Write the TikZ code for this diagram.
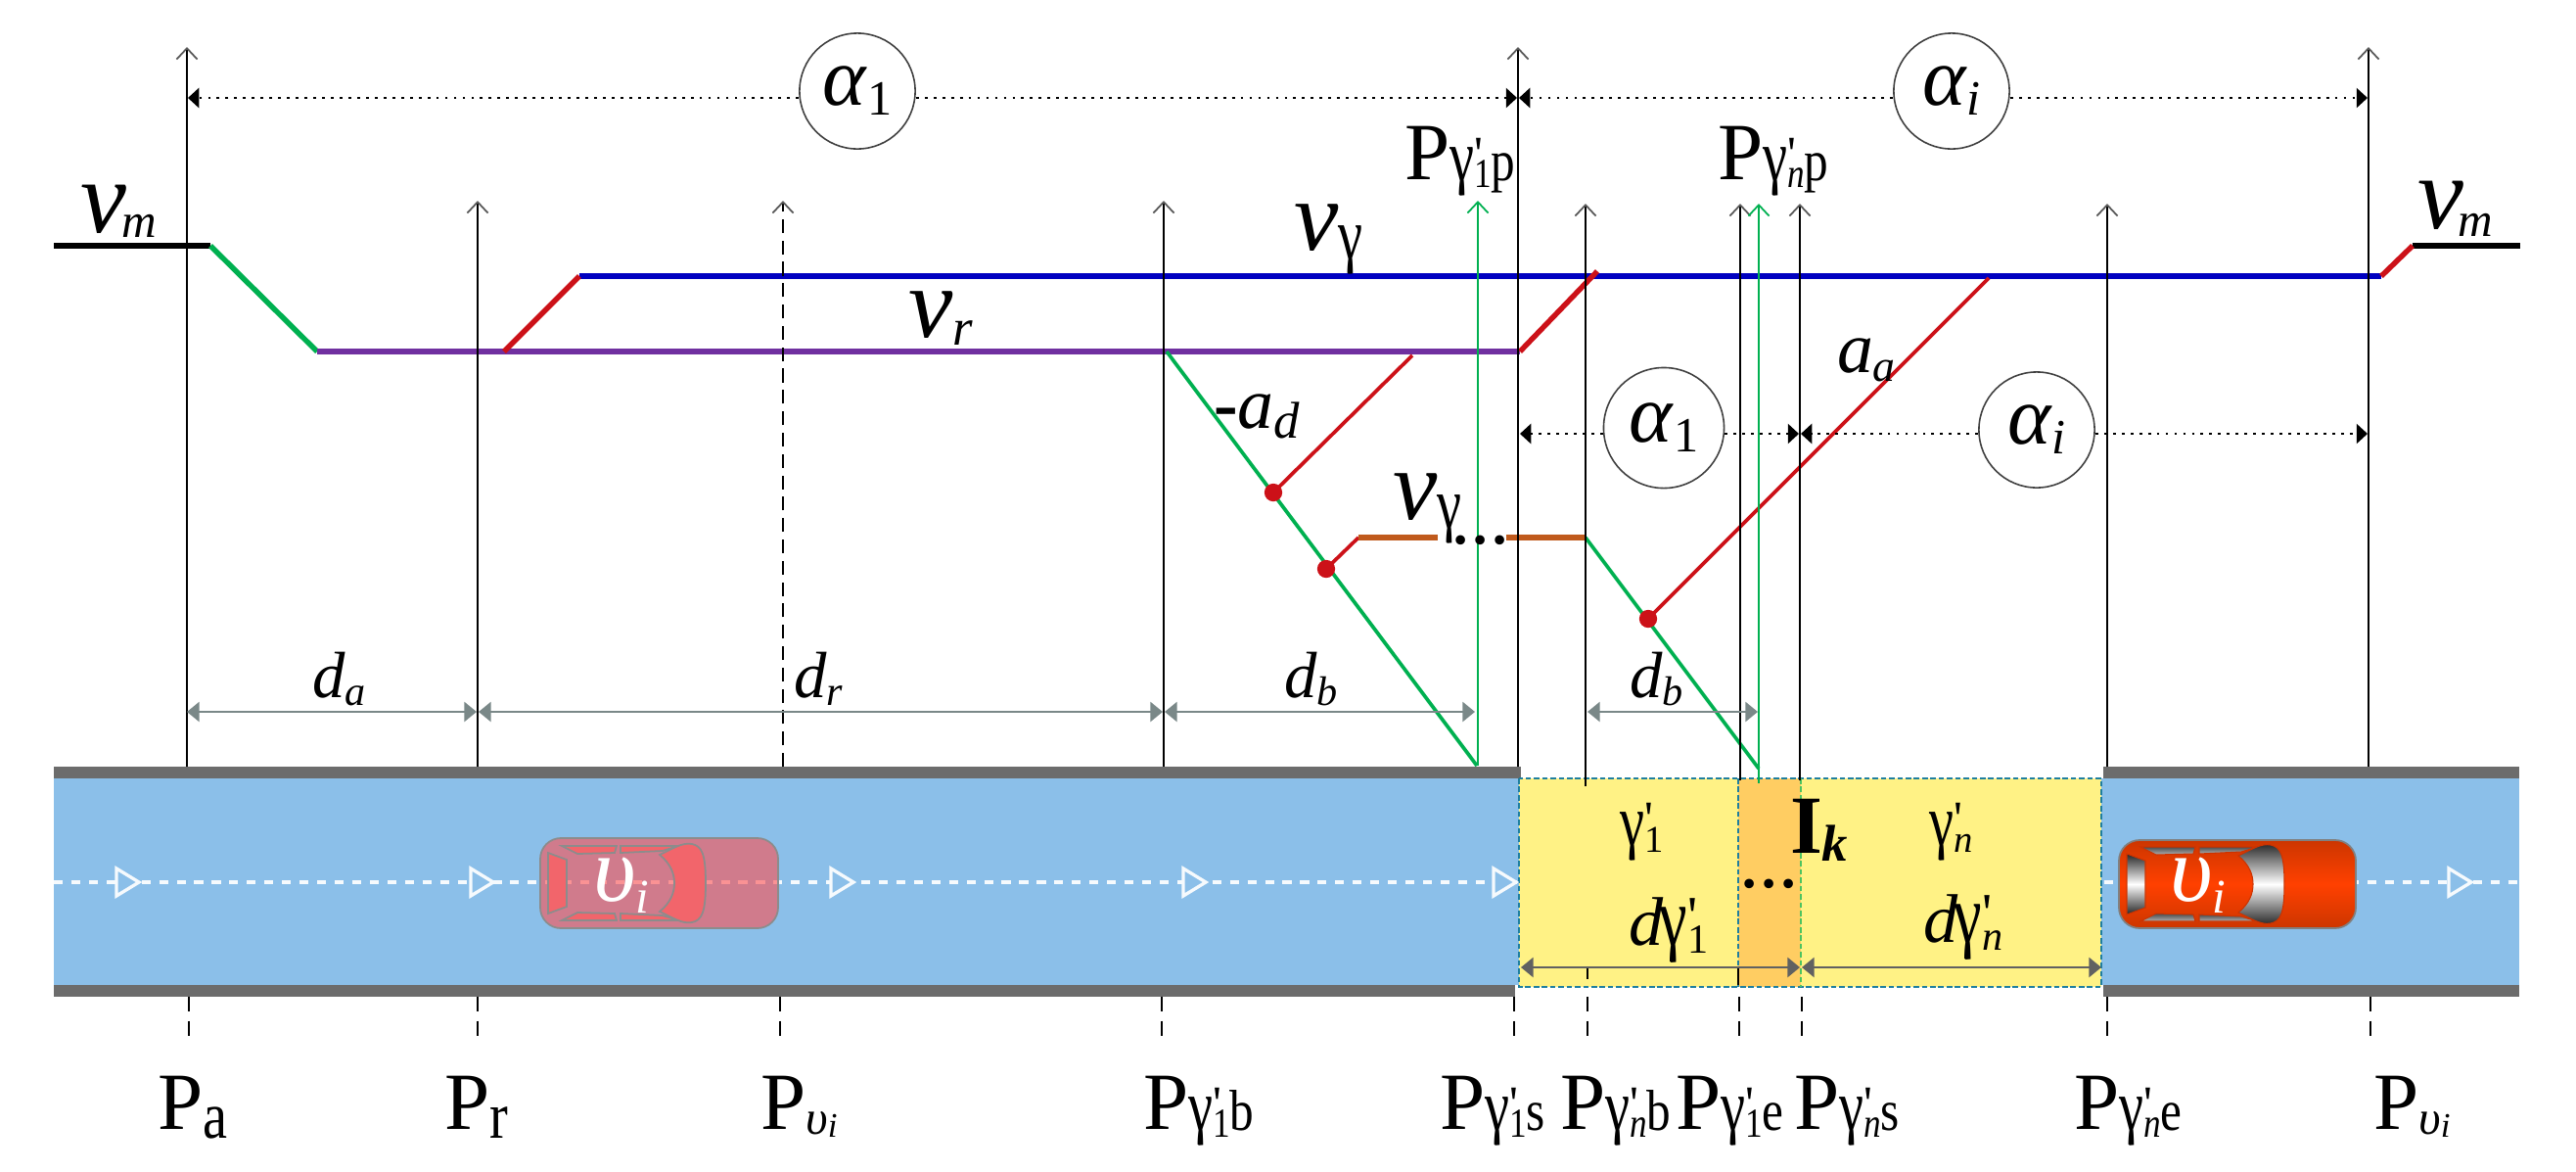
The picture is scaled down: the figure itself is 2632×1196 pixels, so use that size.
\documentclass[tikz,border=0pt]{standalone}
\usepackage{fontspec}
\setmainfont{Liberation Serif}
\usetikzlibrary{arrows.meta}
\definecolor{roadblue}{HTML}{8BBFE9}
\definecolor{roadgray}{HTML}{6C6C6C}
\definecolor{zoneyellow}{HTML}{FFF285}
\definecolor{zoneorange}{HTML}{FFCD62}
\definecolor{zoneteal}{HTML}{1F7F9F}
\definecolor{dimgray}{HTML}{7A8888}
\definecolor{profgreen}{HTML}{00B050}
\definecolor{profred}{HTML}{CC1118}
\definecolor{profblue}{HTML}{0000C0}
\definecolor{profpurple}{HTML}{7030A0}
\definecolor{profbrown}{HTML}{C05A1C}
\definecolor{carred}{HTML}{FF4000}
\definecolor{cardark}{HTML}{CC3600}
\definecolor{ghostred}{HTML}{FE4E4E}
\definecolor{ghostglass}{HTML}{F2656B}
\newcommand\fz[1]{\fontsize{#1}{#1}\selectfont}
\newcommand\lowtxt[3]{\raisebox{-#1pt}{\fz{#2}#3}}
\newcommand\tall[1]{\scalebox{1}[1.2]{#1}}
\newcommand\gam{\scalebox{1.15}[1.5]{γ}}
\newcommand\prm{\rlap{\raisebox{3pt}{\textquotesingle}}}
\newcommand\pgam[2]{P\lowtxt{0.4}{14}{\gam\prm\lowtxt{2}{10}{\tall{#1}}\tall{#2}}}
\newcommand\carglass[2]{%
  \path[#1] (8,-31) -- (27,-24) -- (27,24) -- (8,31) -- cycle;
  \path[#2] (22,-38) -- (78,-38) -- (76,-31) -- (38,-30) -- cycle;
  \path[#2] (82,-38) -- (141,-38) -- (125,-33) -- (82,-31) -- cycle;
  \path[#2] (22,38) -- (78,38) -- (76,31) -- (38,30) -- cycle;
  \path[#2] (82,38) -- (141,38) -- (125,33) -- (82,31) -- cycle;
  \path[#1] (122,-29) .. controls (135,-35) and (145,-42) .. (155,-40)
    .. controls (165,-38) and (169,-30) .. (169,0)
    .. controls (169,30) and (165,38) .. (155,40)
    .. controls (145,42) and (135,35) .. (122,29)
    .. controls (133,20) and (137,10) .. (137,0)
    .. controls (137,-10) and (133,-20) .. (122,-29) -- cycle;
}
\tikzset{
  txt/.style={anchor=base west,inner sep=0pt,outer sep=0pt},
  posline/.style={draw=black,line width=0.55pt,-{Straight Barb[length=3.2pt,width=6pt,line width=0.5pt,black!65]}},
  dashline/.style={posline,dash pattern=on 4pt off 2.2pt},
  footline/.style={draw=black,line width=0.55pt,dash pattern=on 4.4pt off 2.6pt},
  gapline/.style={posline,draw=profgreen,-{Straight Barb[length=3.2pt,width=6pt,line width=0.5pt,profgreen]}},
  dotline/.style={draw=black,line width=0.7pt,dash pattern=on 0.8pt off 1.75pt,-{Triangle[length=3.2pt,width=5.7pt,sep=0pt]}},
  dimline/.style={draw=dimgray,line width=0.7pt,{Triangle[length=3.6pt,width=5.7pt,fill=dimgray]}-{Triangle[length=3.6pt,width=5.7pt,fill=dimgray]}},
  zonedim/.style={dimline,draw=black!62,{Triangle[length=3.6pt,width=5.7pt]}-{Triangle[length=3.6pt,width=5.7pt]}},
  alphacirc/.style={circle,draw=black!75,fill=white,line width=0.45pt,minimum size=33.6pt,inner sep=0pt,font=\fz{24}},
  reddot/.style={circle,fill=profred,minimum size=5.2pt,inner sep=0pt},
  lanetip/.style={draw=white!92!roadblue,line width=0.95pt,fill=roadblue,line join=miter},
  laneline/.style={draw=white!92!roadblue,line width=1pt,dash pattern=on 2.6pt off 2.5pt},
  zoneedge/.style={draw=zoneteal,line width=0.5pt,dash pattern=on 1.6pt off 0.8pt},
  thickspeed/.style={line width=1.55pt},
  thinspeed/.style={line width=1.05pt}
}

\begin{document}
\begin{tikzpicture}[x=0.01cm,y=-0.01cm]
  \useasboundingbox (0,0) rectangle (2632,1196);

  % road
  \fill[roadblue] (55,795) rectangle (1552,1006);
  \fill[roadblue] (2147,795) rectangle (2574,1006);
  \fill[zoneyellow] (1552,795) rectangle (2147,1008);
  \fill[zoneorange] (1776,795) rectangle (1840,1008);
  \fill[roadgray] (55,783) rectangle (1554,795);
  \fill[roadgray] (55,1006) rectangle (1548,1018);
  \fill[roadgray] (2149,783) rectangle (2574,795);
  \fill[roadgray] (2149,1006) rectangle (2574,1018);
  \draw[zoneedge] (1552,795) rectangle (2147,1008);
  \draw[zoneedge] (1776,795) -- (1776,1008);
  \draw[zoneedge,draw=profgreen!70!zoneyellow] (1840,795) -- (1840,1008);

  % lane
  \coordinate (lane1s) at (55,901);
  \coordinate (lane1e) at (1550,901);
  \coordinate (lane2s) at (2150,901);
  \coordinate (lane2e) at (2574,901);
  \draw[laneline] (lane1s) -- (lane1e);
  \draw[laneline] (lane2s) -- (lane2e);
  \foreach \tx in {119,481,849,1209,1526,2502}
    \draw[lanetip] (\tx,887) -- (\tx+23,901) -- (\tx,915) -- cycle;

  % cars
  \begin{scope}[shift={(552,902)}]
    \path[fill=ghostred,fill opacity=0.6,draw=black!45,line width=0.5pt,rounded corners=6pt] (0,-46) rectangle (243,46);
    \carglass{fill=ghostglass,draw=black!45,line width=0.5pt}{fill=ghostglass,draw=black!45,line width=0.5pt}
  \end{scope}
  \begin{scope}[shift={(2165,903)}]
    \path[top color=cardark,bottom color=cardark,middle color=carred,draw=black!50,line width=0.5pt,rounded corners=6pt] (0,-45) rectangle (242,45);
    \carglass{top color=black!85,bottom color=black!85,middle color=white,draw=carred!80!black,line width=0.3pt}{top color=black!70,bottom color=black!30,draw=carred!80!black,line width=0.3pt}
  \end{scope}
  \node[txt,text=white,font=\fz{27}\itshape] (carv1) at (606,920) {υ\lowtxt{3.5}{14}{i}};
  \node[txt,text=white,font=\fz{27}\itshape] (carv2) at (2217,920) {υ\lowtxt{3.5}{14}{i}};

  % speed profile
  \coordinate (m1) at (55,251);
  \coordinate (m2) at (215,251);
  \coordinate (r1) at (324,359);
  \coordinate (r2) at (1553,359);
  \coordinate (u1) at (515,359);
  \coordinate (g1) at (592,282);
  \coordinate (g2) at (2433,282);
  \coordinate (u2) at (1632,277);
  \coordinate (m3) at (2465,251);
  \coordinate (m4) at (2575,251);
  \coordinate (b1) at (1192,359);
  \coordinate (b2) at (1509,782);
  \coordinate (b3) at (1620,549);
  \coordinate (b4) at (1797,785);
  \coordinate (a1) at (1443,363);
  \coordinate (a2) at (2032,284);
  \coordinate (c1) at (1388,549);
  \coordinate (c2) at (1469,549);
  \coordinate (c3) at (1539,549);
  \coordinate (d1) at (1301,503);
  \coordinate (d2) at (1355,581);
  \coordinate (d3) at (1684,632);

  \draw[thickspeed,black] (m1) -- (m2);
  \draw[thickspeed,black] (m3) -- (m4);
  \draw[thickspeed,profgreen] (m2) -- (r1);
  \draw[thickspeed,profpurple] (r1) -- (r2);
  \draw[thickspeed,profblue] (g1) -- (g2);
  \draw[thickspeed,profred] (u1) -- (g1);
  \draw[thickspeed,profred] (r2) -- (u2);
  \draw[thickspeed,profred] (g2) -- (m3);
  \draw[thinspeed,profgreen] (b1) -- (b2);
  \draw[thinspeed,profgreen] (b3) -- (b4);
  \draw[thinspeed,profred] (a1) -- (d1);
  \draw[thinspeed,profred] (a2) -- (d3);
  \draw[thinspeed,profred] (d2) -- (c1);
  \draw[thickspeed,profbrown] (c1) -- (c2);
  \draw[thickspeed,profbrown] (c3) -- (b3);
  \node[reddot] (dot1) at (d1) {};
  \node[reddot] (dot2) at (d2) {};
  \node[reddot] (dot3) at (d3) {};

  % position lines
  \foreach \nm/\xt/\yt/\yb in {pa/191/48/783,pr/488/205/783,pb/1189/205/783,ps/1551/48/783,pnb/1620/208/803,pe/1778/208/797,pns/1839/208/797,pne/2153/208/783,pv/2420/48/783}{
    \coordinate (\nm foot) at (\xt,\yb);
    \coordinate (\nm head) at (\xt,\yt);
    \draw[posline] (\nm foot) -- (\nm head);
  }
  \coordinate (pvi foot) at (800,783);
  \coordinate (pvi head) at (800,205);
  \draw[dashline] (pvi foot) -- (pvi head);
  \coordinate (gp1 foot) at (1510,782);
  \coordinate (gp1 head) at (1510,205);
  \draw[gapline] (gp1 foot) -- (gp1 head);
  \coordinate (gp2 foot) at (1797,800);
  \coordinate (gp2 head) at (1797,208);
  \draw[gapline] (gp2 foot) -- (gp2 head);

  \foreach \nm/\xt in {la/193,lr/488,lvi/797,lb/1187,ls/1547,lnb/1622,le/1777,lns/1841,lne/2153,lv/2422}{
    \coordinate (\nm s) at (\xt,1018);
    \coordinate (\nm e) at (\xt,1062);
    \draw[footline] (\nm s) -- (\nm e);
  }
  \coordinate (tick1s) at (1622,988);
  \coordinate (tick1e) at (1622,1000);
  \coordinate (tick2s) at (1776,988);
  \coordinate (tick2e) at (1776,1006);
  \draw[black,line width=0.45pt] (tick1s) -- (tick1e);
  \draw[black,line width=0.45pt] (tick2s) -- (tick2e);

  % range circles
  \node[alphacirc] (alpha1top) at (876,93) {\textit{α}\lowtxt{2.8}{14.3}{1}};
  \node[alphacirc] (alphaitop) at (1994,93) {\textit{α}\lowtxt{2.8}{14.3}{\textit{i}}};
  \node[alphacirc,minimum size=35pt] (alpha1low) at (1700,437) {\textit{α}\lowtxt{2.8}{14.3}{1}};
  \node[alphacirc] (alphailow) at (2081,439) {\textit{α}\lowtxt{2.8}{14.3}{\textit{i}}};
  \coordinate (dotpa) at (192,100);
  \coordinate (dotc1) at (1550,100);
  \coordinate (dotc2) at (1552,100);
  \coordinate (dotpv) at (2419,100);
  \coordinate (dotl1) at (1553,443);
  \coordinate (dotl2) at (1838,443);
  \coordinate (dotl3) at (1840,443);
  \coordinate (dotl4) at (2419,443);
  \draw[dotline] (dotpa -| alpha1top.west) -- (dotpa);
  \draw[dotline] (dotc1 -| alpha1top.east) -- (dotc1);
  \draw[dotline] (dotc2 -| alphaitop.west) -- (dotc2);
  \draw[dotline] (dotpv -| alphaitop.east) -- (dotpv);
  \draw[dotline] (dotl1 -| alpha1low.west) -- (dotl1);
  \draw[dotline] (dotl2 -| alpha1low.east) -- (dotl2);
  \draw[dotline] (dotl3 -| alphailow.west) -- (dotl3);
  \draw[dotline] (dotl4 -| alphailow.east) -- (dotl4);

  % distances
  \coordinate (dd1) at (191,727);
  \coordinate (dd2) at (487,727);
  \coordinate (dd3) at (489,727);
  \coordinate (dd4) at (1188,727);
  \coordinate (dd5) at (1190,727);
  \coordinate (dd6) at (1507,727);
  \coordinate (dd7) at (1622,727);
  \coordinate (dd8) at (1796,727);
  \coordinate (dz1) at (1554,988);
  \coordinate (dz2) at (1839,988);
  \coordinate (dz3) at (1841,988);
  \coordinate (dz4) at (2147,988);
  \draw[dimline] (dd1) -- (dd2);
  \draw[dimline] (dd3) -- (dd4);
  \draw[dimline] (dd5) -- (dd6);
  \draw[dimline] (dd7) -- (dd8);
  \draw[zonedim] (dz1) -- (dz2);
  \draw[zonedim] (dz3) -- (dz4);

  % labels
  \node[txt,font=\fz{30}\itshape] (vm1) at (83,237) {v\kern-1.5pt\lowtxt{1.6}{14}{m}};
  \node[txt,font=\fz{30}\itshape] (vm2) at (2470,233) {v\kern-1.5pt\lowtxt{2.5}{14}{m}};
  \node[txt,font=\fz{29}\itshape] (vg1) at (1322,255) {v\lowtxt{2.8}{14}{\upshape\gam}};
  \node[txt,font=\fz{29}\itshape] (vg2) at (1423,530) {v\lowtxt{2.8}{14}{\upshape\gam}};
  \node[txt,font=\fz{29}\itshape] (vr) at (928,344) {v\lowtxt{2.5}{15}{r}};
  \node[txt,font=\fz{21}\itshape] (aa) at (1877,380) {a\lowtxt{2.8}{13}{a}};
  \node[txt,font=\fz{21}\itshape] (ad) at (1240,437) {{\upshape\bfseries -}a\lowtxt{3}{15}{d}};
  \node[txt,font=\fz{19}\itshape] (da) at (319,712) {d\lowtxt{2.3}{12}{a}};
  \node[txt,font=\fz{19}\itshape] (dr) at (811,712) {d\lowtxt{2.3}{12}{r}};
  \node[txt,font=\fz{19}\itshape] (db1) at (1312,712) {d\lowtxt{2.3}{12}{b}};
  \node[txt,font=\fz{19}\itshape] (db2) at (1665,712) {d\lowtxt{2.3}{12}{b}};
  \node[txt,font=\fz{23.6}] (lpp1) at (1435,183) {\pgam{1}{p}};
  \node[txt,font=\fz{23.6}] (lppn) at (1755,183) {\pgam{\textit{n}}{p}};
  \node[txt,font=\fz{23.6}] (lpa) at (161,1153) {P\lowtxt{2.8}{16}{\tall{a}}};
  \node[txt,font=\fz{23.6}] (lpr) at (454,1153) {P\lowtxt{2.8}{16}{\tall{r}}};
  \node[txt,font=\fz{23.6}] (lpv1) at (777,1153) {P\lowtxt{1.5}{14}{\textit{υ}\lowtxt{0.8}{10}{\textit{i}}}};
  \node[txt,font=\fz{23.6}] (lpb) at (1168,1153) {\pgam{1}{b}};
  \node[txt,font=\fz{23.6}] (lps) at (1471,1153) {\pgam{1}{s}};
  \node[txt,font=\fz{23.6}] (lpnb) at (1594,1153) {\pgam{\textit{n}}{b}};
  \node[txt,font=\fz{23.6}] (lpe) at (1712,1153) {\pgam{1}{e}};
  \node[txt,font=\fz{23.6}] (lpns) at (1833,1153) {\pgam{\textit{n}}{s}};
  \node[txt,font=\fz{23.6}] (lpne) at (2119,1153) {\pgam{\textit{n}}{e}};
  \node[txt,font=\fz{23.6}] (lpv2) at (2425,1153) {P\lowtxt{1.5}{14}{\textit{υ}\lowtxt{0.8}{10}{\textit{i}}}};
  \node[txt,font=\fz{14}] (g1z) at (1655,863) {\gam\prm\lowtxt{2}{11}{1}};
  \node[txt,font=\fz{14}] (gnz) at (1971,863) {\gam\prm\lowtxt{2}{11}{\textit{n}}};
  \node[txt,font=\fz{20}] (dg1) at (1664,965) {\textit{d}\kern-1pt{\fz{16}\gam\prm\lowtxt{2.5}{12}{1}}};
  \node[txt,font=\fz{20}] (dgn) at (1965,962) {\textit{d}\kern-1pt{\fz{16}\gam\prm\lowtxt{2.5}{12}{\textit{n}}}};
  \node[txt,font=\fz{24}\bfseries] (ik) at (1829,871) {I\lowtxt{2.5}{15}{\textit{k}}};
  \node[txt,font=\fz{23}] (dots1) at (1777,906) {...};
  \node[txt,font=\fz{23}] (dots2) at (1482,555) {...};
\end{tikzpicture}
\end{document}
